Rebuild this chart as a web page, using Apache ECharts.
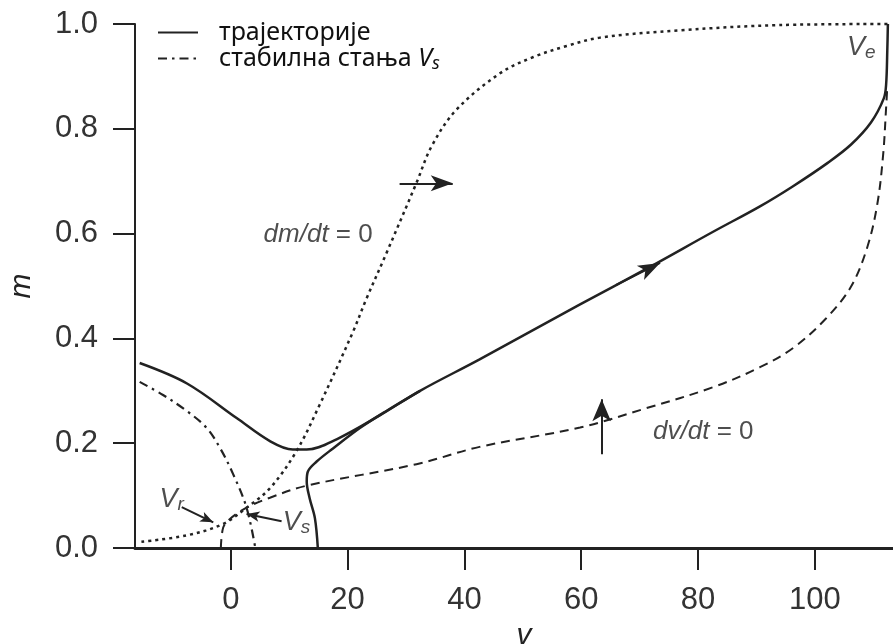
<!DOCTYPE html>
<html>
<head>
<meta charset="utf-8">
<title>m–v фазна раван</title>
<script src="https://cdn.jsdelivr.net/npm/echarts@6/dist/echarts.min.js"></script>
<style>
  html, body { margin: 0; padding: 0; background: #fff; }
  #chart { width: 893px; height: 644px; }
</style>
</head>
<body>
<div id="chart"></div>
<script>
// подаци очитани са слике (v, m)
const traj1 = [[-15.6, 0.353], [-7.5, 0.314], [1.0, 0.248], [6.7, 0.204], [10.6, 0.188], [13.0, 0.188],
  [18.2, 0.208], [25.5, 0.253], [32.4, 0.300], [42.6, 0.360], [59.8, 0.465], [71.2, 0.533], [82.5, 0.603],
  [90.6, 0.652], [96.2, 0.690], [102.2, 0.735], [106.2, 0.770], [109.6, 0.812], [111.8, 0.858],
  [112.2, 0.885], [112.4, 0.95], [112.5, 1.0]]
const traj2 = [[14.9, 0.0], [14.4, 0.057], [13.5, 0.095], [13.0, 0.127], [13.2, 0.146], [14.7, 0.165],
  [17.5, 0.19], [22.1, 0.229], [26.7, 0.262], [32.4, 0.300]]
const dmdt = [[-15.3, 0.012], [-7.6, 0.024], [-1.3, 0.046], [2.7, 0.077], [6.7, 0.114], [11.2, 0.184],
  [15.2, 0.273], [20.9, 0.412], [23.2, 0.475], [26.7, 0.564], [31.8, 0.697], [34.4, 0.767], [38.6, 0.836],
  [46.1, 0.906], [51.8, 0.937], [57.5, 0.958], [63.2, 0.974], [76.9, 0.988], [94.0, 0.998], [112.5, 1.0]]
const dvdt = [[-1.7, 0.0], [-1.3, 0.039], [-0.2, 0.055], [2.7, 0.077], [6.7, 0.096], [13.0, 0.119],
  [31.8, 0.160], [42.6, 0.193], [59.8, 0.230], [71.2, 0.267], [82.6, 0.307], [90.6, 0.345], [96.3, 0.382],
  [101.9, 0.438], [106.2, 0.499], [109.0, 0.575], [110.7, 0.657], [111.7, 0.752], [112.2, 0.841], [112.4, 0.88]]
const stableVs = [[-15.6, 0.317], [-11.6, 0.292], [-7.6, 0.262], [-4.2, 0.230], [-1.9, 0.192],
  [0.4, 0.141], [2.7, 0.077], [4.2, 0.0]]

const xTicks = [0, 20, 40, 60, 80, 100]
const legendNames = ['трајекторије', 'стабилна стања']

// натписи и стрелице (у координатама података)
const noteText = ['{i|dm/dt} = 0', '{i|dv/dt} = 0', '{v|V}{s|r}', '{v|V}{s|s}', '{v|V}{s|e}']
const notePos = [[24.3, 0.597], [72.3, 0.222], [-12.2, 0.093], [8.9, 0.049], [105.5, 0.955]]
const noteSide = ['left', 'right', 'right', 'right', 'right']
const arrowFrom = [[28.9, 0.696], [63.5, 0.179], [-8.4, 0.078], [8.7, 0.051], [66.0, 0.502]]
const arrowTo = [[38.0, 0.696], [63.5, 0.284], [-3.0, 0.049], [2.7, 0.065], [73.5, 0.544]]
const arrowSize = [[12, 22], [14, 22], [8, 13], [8, 13], [12, 22]]

const ink = '#222'
const chart = echarts.init(document.getElementById('chart'))

function curve(name, data, type, width) {
  return {
    name: name,
    type: 'line',
    data: data,
    smooth: 0.35,
    symbol: 'none',
    clip: false,
    silent: true,
    lineStyle: { color: ink, width: width, type: type },
    itemStyle: { color: ink }
  }
}

const richText = {
  i: { fontFamily: 'Liberation Sans', fontStyle: 'italic', fontSize: 26, color: ink },
  v: { fontFamily: 'Liberation Sans', fontStyle: 'italic', fontSize: 27, color: ink, lineHeight: 30 },
  s: { fontFamily: 'Liberation Sans', fontStyle: 'italic', fontSize: 19, color: ink, verticalAlign: 'bottom', lineHeight: 16 }
}

const option = {
  animation: false,
  backgroundColor: '#fff',
  grid: { left: 135, right: -20, top: 24, bottom: 96, outerBoundsMode: 'none', containLabel: false },
  legend: {
    data: legendNames,
    orient: 'vertical',
    left: 157,
    top: 20,
    padding: 0,
    itemWidth: 40,
    itemHeight: 14,
    itemGap: 1,
    selectedMode: false,
    itemStyle: { color: 'rgba(0,0,0,0)', borderWidth: 0, opacity: 0 },
    formatter: function (name) {
      return name === legendNames[1] ? '{t|' + name + ' }{li|V}{ls|s}' : '{t|' + name + '}'
    },
    textStyle: {
      padding: [0, 0, 0, 16],
      rich: {
        t: { fontFamily: 'Noto Sans', fontSize: 25, color: '#111', lineHeight: 28 },
        li: { fontFamily: 'Noto Sans', fontStyle: 'italic', fontSize: 25, color: '#111', lineHeight: 28 },
        ls: { fontFamily: 'Noto Sans', fontStyle: 'italic', fontSize: 18, color: '#111', verticalAlign: 'bottom', lineHeight: 14 }
      }
    }
  },
  xAxis: {
    type: 'value',
    min: -16.4,
    max: 116.8,
    name: 'v',
    nameLocation: 'middle',
    nameGap: 73,
    nameTextStyle: { fontFamily: 'Liberation Sans', fontStyle: 'italic', fontSize: 30, color: ink },
    axisLine: { onZero: false, lineStyle: { color: ink, width: 3 } },
    axisTick: { length: 22, lineStyle: { color: ink, width: 2 }, customValues: xTicks },
    axisLabel: { customValues: xTicks, margin: 37, fontFamily: 'Liberation Sans', fontSize: 31, color: '#333' },
    splitLine: { show: false }
  },
  yAxis: {
    type: 'value',
    min: 0,
    max: 1,
    interval: 0.2,
    name: 'm',
    nameLocation: 'middle',
    nameGap: 98,
    nameRotate: 90,
    nameTextStyle: { fontFamily: 'Liberation Sans', fontStyle: 'italic', fontSize: 30, color: ink },
    axisLine: { onZero: false, lineStyle: { color: ink, width: 2 } },
    axisTick: { length: 22, lineStyle: { color: ink, width: 2 } },
    axisLabel: { margin: 37, fontFamily: 'Liberation Sans', fontSize: 31, color: '#333', formatter: v => v.toFixed(1) },
    splitLine: { show: false }
  },
  series: [
    curve(legendNames[0], traj1, 'solid', 2.5),
    curve('traj2', traj2, 'solid', 2.5),
    curve('dm/dt', dmdt, [3, 4], 2.5),
    curve('dv/dt', dvdt, [9, 6], 2),
    curve(legendNames[1], stableVs, [9, 5, 2.5, 5], 2.2),
    {
      name: 'notes',
      type: 'scatter',
      symbolSize: 0,
      silent: true,
      data: notePos.map((p, i) => ({
        value: p,
        label: { show: true, position: noteSide[i], distance: 0, formatter: noteText[i], rich: richText, fontSize: 26, color: ink, fontFamily: 'Liberation Sans', textBorderWidth: 0 }
      })),
      markLine: {
        silent: true,
        animation: false,
        label: { show: false },
        lineStyle: { color: ink, width: 2, type: 'solid' },
        emphasis: { disabled: true },
        data: arrowFrom.map((p, i) => [
          { coord: p, symbol: 'none' },
          { coord: arrowTo[i], symbol: 'arrow', symbolSize: arrowSize[i] }
        ])
      }
    }
  ]
}

chart.setOption(option)
</script>
</body>
</html>
